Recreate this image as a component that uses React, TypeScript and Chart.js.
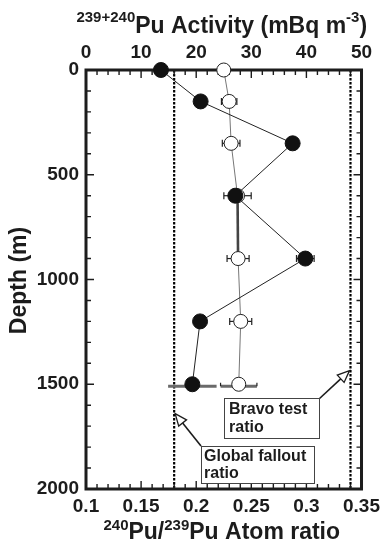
import { useEffect, useRef } from "react";
import { Chart, registerables } from "chart.js";

Chart.register(...registerables);

// ---- data ----
const depths = [0, 150, 350, 600, 900, 1200, 1500];
const activity = [13.6, 20.8, 37.5, 27.1, 39.8, 20.7, 19.3];
const activityErr = [0, 0, 0, 0, 1.6, 0, 4.4];
const atomRatio = [0.225, 0.2299, 0.2317, 0.2375, 0.238, 0.2404, 0.2386];
const atomRatioErr = [0, 0.007, 0.008, 0.0124, 0.01, 0.01, 0.0165];
const depthTicks = [0, 500, 1000, 1500, 2000];
const ratioTicks = [0.1, 0.15, 0.2, 0.25, 0.3, 0.35];
const activityTicks = [0, 10, 20, 30, 40, 50];
const globalFalloutRatio = 0.18;
const bravoTestRatio = 0.34;

const FONT = '"Liberation Sans", Arial, Helvetica, sans-serif';
const INK = "#1c1c1c";

type Part = { t: string; sup?: boolean };

function drawRich(ctx: CanvasRenderingContext2D, parts: Part[], cx: number, baseY: number, size: number, supSize: number, raise: number) {
  const fMain = `bold ${size}px ${FONT}`;
  const fSup = `bold ${supSize}px ${FONT}`;
  let total = 0;
  for (const p of parts) {
    ctx.font = p.sup ? fSup : fMain;
    total += ctx.measureText(p.t).width;
  }
  let x = cx - total / 2;
  ctx.textAlign = "left";
  ctx.textBaseline = "alphabetic";
  for (const p of parts) {
    ctx.font = p.sup ? fSup : fMain;
    ctx.fillText(p.t, x, p.sup ? baseY - raise : baseY);
    x += ctx.measureText(p.t).width;
  }
}

function arrow(ctx: CanvasRenderingContext2D, x0: number, y0: number, x1: number, y1: number) {
  const ang = Math.atan2(y1 - y0, x1 - x0);
  const len = 12;
  const hw = 5;
  const bx = x1 - len * Math.cos(ang);
  const by = y1 - len * Math.sin(ang);
  ctx.lineWidth = 1.6;
  ctx.strokeStyle = INK;
  ctx.beginPath();
  ctx.moveTo(x0, y0);
  ctx.lineTo(bx, by);
  ctx.stroke();
  const nx = -Math.sin(ang), ny = Math.cos(ang);
  ctx.beginPath();
  ctx.moveTo(x1, y1);
  ctx.lineTo(bx + nx * hw, by + ny * hw);
  ctx.lineTo(bx - nx * hw, by - ny * hw);
  ctx.closePath();
  ctx.fillStyle = "#fff";
  ctx.fill();
  ctx.lineWidth = 1.3;
  ctx.stroke();
}

function labelBox(ctx: CanvasRenderingContext2D, x: number, y: number, w: number, h: number, lines: string[], tx: number, firstBase: number, lh: number) {
  ctx.fillStyle = "#fff";
  ctx.fillRect(x, y, w, h);
  ctx.strokeStyle = "#444";
  ctx.lineWidth = 1;
  ctx.strokeRect(x + 0.5, y + 0.5, w, h);
  ctx.fillStyle = INK;
  ctx.font = `bold 16px ${FONT}`;
  ctx.textAlign = "left";
  ctx.textBaseline = "alphabetic";
  lines.forEach((l, i) => ctx.fillText(l, tx, firstBase + i * lh));
}

export default function App() {
  const ref = useRef<HTMLCanvasElement>(null);

  useEffect(() => {
    document.body.style.margin = "0";
    const canvas = ref.current!;
    const tickFont = { family: FONT, size: 19, weight: "bold" as const };

    const decor = {
      id: "decor",
      beforeDatasetsDraw(chart: any) {
        const { ctx, chartArea: a, scales } = chart;
        const xb = scales.x, xt = scales.xTop, y = scales.y;
        ctx.save();
        // reference ratio lines
        ctx.strokeStyle = "#000";
        ctx.lineWidth = 2.2;
        ctx.setLineDash([2.5, 1.5]);
        for (const r of [globalFalloutRatio, bravoTestRatio]) {
          const X = xb.getPixelForValue(r);
          ctx.beginPath();
          ctx.moveTo(X, a.top);
          ctx.lineTo(X, a.bottom);
          ctx.stroke();
        }
        ctx.setLineDash([]);
        // inward ticks
        ctx.strokeStyle = INK;
        ctx.lineWidth = 1.4;
        ctx.beginPath();
        for (let d = 0; d <= 2000; d += 100) {
          const Y = y.getPixelForValue(d);
          const L = d % 500 === 0 ? 8 : 5;
          ctx.moveTo(a.left, Y); ctx.lineTo(a.left + L, Y);
          ctx.moveTo(a.right, Y); ctx.lineTo(a.right - L, Y);
        }
        for (let i = 0; i <= 25; i++) {
          const X = xb.getPixelForValue(0.1 + i * 0.01);
          const L = i % 5 === 0 ? 8 : 5;
          ctx.moveTo(X, a.bottom); ctx.lineTo(X, a.bottom - L);
        }
        for (let i = 0; i <= 25; i++) {
          const X = xt.getPixelForValue(i * 2);
          const L = i % 5 === 0 ? 8 : 5;
          ctx.moveTo(X, a.top); ctx.lineTo(X, a.top + L);
        }
        ctx.stroke();
        // frame
        ctx.lineWidth = 3;
        ctx.strokeStyle = INK;
        ctx.strokeRect(a.left, a.top, a.right - a.left, a.bottom - a.top);
        // error bars
        const last = depths.length - 1;
        const bar = (scale: any, v: number, e: number, d: number, band: boolean, caps: boolean) => {
          if (!e) return;
          const X0 = scale.getPixelForValue(v - e);
          const X1 = scale.getPixelForValue(v + e);
          const Y = y.getPixelForValue(d) + (band ? 2 : 0);
          ctx.strokeStyle = band ? "#6a6a6a" : "#222";
          ctx.lineWidth = band ? 3.2 : 1.2;
          ctx.beginPath();
          ctx.moveTo(X0, Y); ctx.lineTo(X1, Y);
          ctx.stroke();
          if (!caps) return;
          ctx.strokeStyle = "#222";
          ctx.lineWidth = 1.2;
          ctx.beginPath();
          const h = 3.5;
          ctx.moveTo(X0, Y - h); ctx.lineTo(X0, Y + (band ? 0 : h));
          ctx.moveTo(X1, Y - h); ctx.lineTo(X1, Y + (band ? 0 : h));
          ctx.stroke();
        };
        depths.forEach((d, i) => {
          bar(xt, activity[i], activityErr[i], d, i === last, i !== last);
          bar(xb, atomRatio[i], atomRatioErr[i], d, i === last, true);
        });
        ctx.restore();
      },
      afterDraw(chart: any) {
        const { ctx, chartArea: a, scales } = chart;
        const xb = scales.x, y = scales.y;
        ctx.save();
        ctx.fillStyle = INK;
        const cx = (a.left + a.right) / 2 - 2;
        // top title
        drawRich(ctx, [{ t: "239+240", sup: true }, { t: "Pu Activity (mBq m" }, { t: "-3", sup: true }, { t: ")" }], cx, 33, 23, 15, 11);
        // bottom title
        drawRich(ctx, [{ t: "240", sup: true }, { t: "Pu/" }, { t: "239", sup: true }, { t: "Pu Atom ratio" }], cx, 539, 23, 15, 9);
        // y title
        ctx.save();
        ctx.translate(26, (a.top + a.bottom) / 2 + 1);
        ctx.rotate(-Math.PI / 2);
        ctx.font = `bold 23px ${FONT}`;
        ctx.textAlign = "center";
        ctx.textBaseline = "alphabetic";
        ctx.fillText("Depth (m)", 0, 0);
        ctx.restore();
        // annotations
        const bx = xb.getPixelForValue(bravoTestRatio);
        const gx = xb.getPixelForValue(globalFalloutRatio);
        arrow(ctx, a.left + 233, a.bottom - 90, bx - 1, y.getPixelForValue(1435));
        arrow(ctx, a.left + 115, a.bottom - 43, gx + 1, y.getPixelForValue(1640));
        labelBox(ctx, a.left + 138, a.bottom - 91, 95, 40, ["Bravo test", "ratio"], a.left + 143, a.bottom - 75, 18);
        labelBox(ctx, a.left + 115, a.bottom - 43, 113, 37, ["Global fallout", "ratio"], a.left + 118, a.bottom - 28, 17);
        ctx.restore();
      },
    };

    const chart = new Chart(canvas, {
      type: "scatter",
      data: {
        datasets: [
          {
            label: "Activity",
            data: depths.map((d, i) => ({ x: activity[i], y: d })),
            xAxisID: "xTop",
            yAxisID: "y",
            showLine: true,
            borderColor: "#222",
            borderWidth: 1,
            pointRadius: 7.5,
            pointBackgroundColor: "#111",
            pointBorderColor: "#111",
            pointBorderWidth: 1,
            clip: false,
          } as any,
          {
            label: "Atom ratio",
            data: depths.map((d, i) => ({ x: atomRatio[i], y: d })),
            xAxisID: "x",
            yAxisID: "y",
            showLine: true,
            borderColor: "#777",
            borderWidth: 1,
            segment: {
              borderWidth: (c: any) => (c.p0DataIndex === 3 ? 2.6 : 1),
              borderColor: (c: any) => (c.p0DataIndex === 3 ? "#444" : "#777"),
            },
            pointRadius: 7,
            pointBackgroundColor: "#fff",
            pointBorderColor: "#222",
            pointBorderWidth: 1,
            clip: false,
          } as any,
        ],
      },
      options: {
        animation: false,
        responsive: false,
        maintainAspectRatio: false,
        events: [],
        layout: { padding: { left: 0, right: 21, top: 0, bottom: 0 } },
        plugins: { legend: { display: false }, tooltip: { enabled: false } },
        scales: {
          x: {
            type: "linear",
            position: "bottom",
            min: 0.1,
            max: 0.35,
            grid: { display: false, drawTicks: false },
            border: { display: false },
            ticks: { padding: 6, font: tickFont, color: INK, autoSkip: false, maxRotation: 0, callback: (v: any) => String(v) },
            afterBuildTicks: (s: any) => { s.ticks = ratioTicks.map((v) => ({ value: v })); },
            afterFit: (s: any) => { s.height = 54; },
          },
          xTop: {
            type: "linear",
            position: "top",
            min: 0,
            max: 50,
            grid: { display: false, drawTicks: false },
            border: { display: false },
            ticks: { padding: 6, font: tickFont, color: INK, autoSkip: false, maxRotation: 0, callback: (v: any) => String(v) },
            afterBuildTicks: (s: any) => { s.ticks = activityTicks.map((v) => ({ value: v })); },
            afterFit: (s: any) => { s.height = 70; },
          },
          y: {
            type: "linear",
            position: "left",
            reverse: true,
            min: 0,
            max: 2000,
            grid: { display: false, drawTicks: false },
            border: { display: false },
            ticks: { padding: 7, font: tickFont, color: INK, autoSkip: false, callback: (v: any) => String(v) },
            afterBuildTicks: (s: any) => { s.ticks = depthTicks.map((v) => ({ value: v })); },
            afterFit: (s: any) => { s.width = 86; },
          },
        } as any,
      },
      plugins: [decor],
    });
    return () => chart.destroy();
  }, []);

  return (
    <canvas ref={ref} width={386} height={543} style={{ display: "block", width: 386, height: 543 }} />
  );
}
